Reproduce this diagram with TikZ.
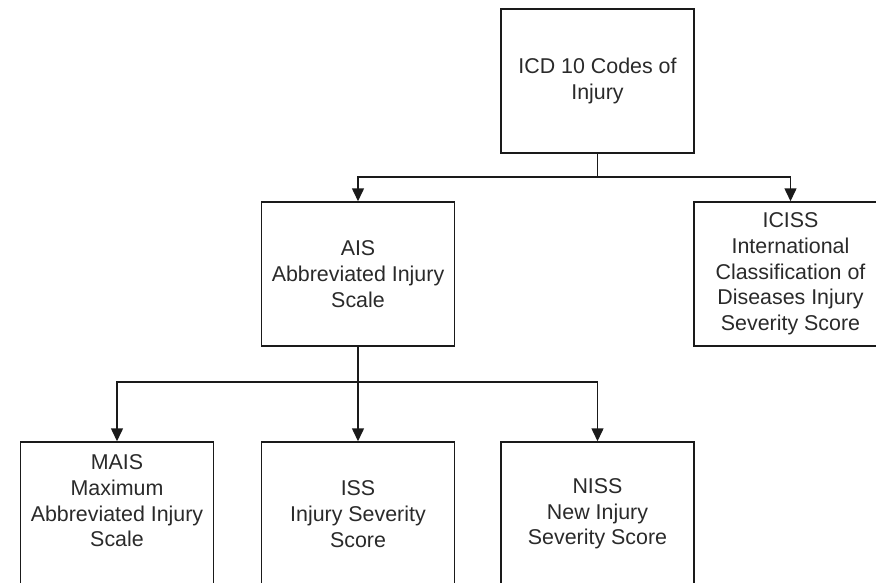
\documentclass[tikz,border=0pt]{standalone}
\usepackage{fontspec}
\setmainfont{Liberation Sans}
\usetikzlibrary{arrows.meta}
\definecolor{ln}{HTML}{1A1A1A}
\definecolor{tx}{HTML}{2A2A2A}
\tikzset{
  boxnode/.style={draw=ln, line width=1.5pt, minimum width=193pt, minimum height=144pt,
    inner sep=2pt, align=center, text=tx, font=\fontsize{21.4pt}{25.7pt}\selectfont},
  textonly/.style={inner sep=0pt, align=center, text=tx, font=\fontsize{21.4pt}{25.7pt}\selectfont},
  conn/.style={draw=ln, line width=1.5pt},
  arr/.style={conn, -{Triangle[width=12pt,length=13pt]}}
}
\begin{document}
\begin{tikzpicture}[x=1pt,y=-1pt]
\useasboundingbox (0,0) rectangle (876,582);
\clip (0,0) rectangle (876,582);
\fill[white] (0,0) rectangle (876,582);
\node[boxnode] (icd) at (597.5,81) {ICD 10 Codes of\\Injury};
\node[boxnode] (ais) at (358,274) {AIS\\Abbreviated Injury\\Scale};
\node[boxnode] (iciss) at (790.5,274) {ICISS\\International\\Classification of\\Diseases Injury\\Severity Score};
\node[boxnode] (mais) at (117,514) {};
\node[textonly] (maist) at (117,501) {MAIS\\Maximum\\Abbreviated Injury\\Scale};
\node[boxnode] (iss) at (358,514) {ISS\\Injury Severity\\Score};
\node[boxnode] (niss) at (597.5,514) {NISS\\New Injury\\Severity Score};
\coordinate (jtop) at (597.5,177);
\coordinate (jbot) at (358,382);
\draw[conn] (icd.south) -- (jtop);
\draw[arr] (jtop) -| (ais.north);
\draw[arr] (jtop) -| (iciss.north);
\draw[conn] (ais.south) -- (jbot);
\draw[arr] (jbot) -| (mais.north);
\draw[arr] (jbot) -- (iss.north);
\draw[arr] (jbot) -| (niss.north);
\end{tikzpicture}
\end{document}
